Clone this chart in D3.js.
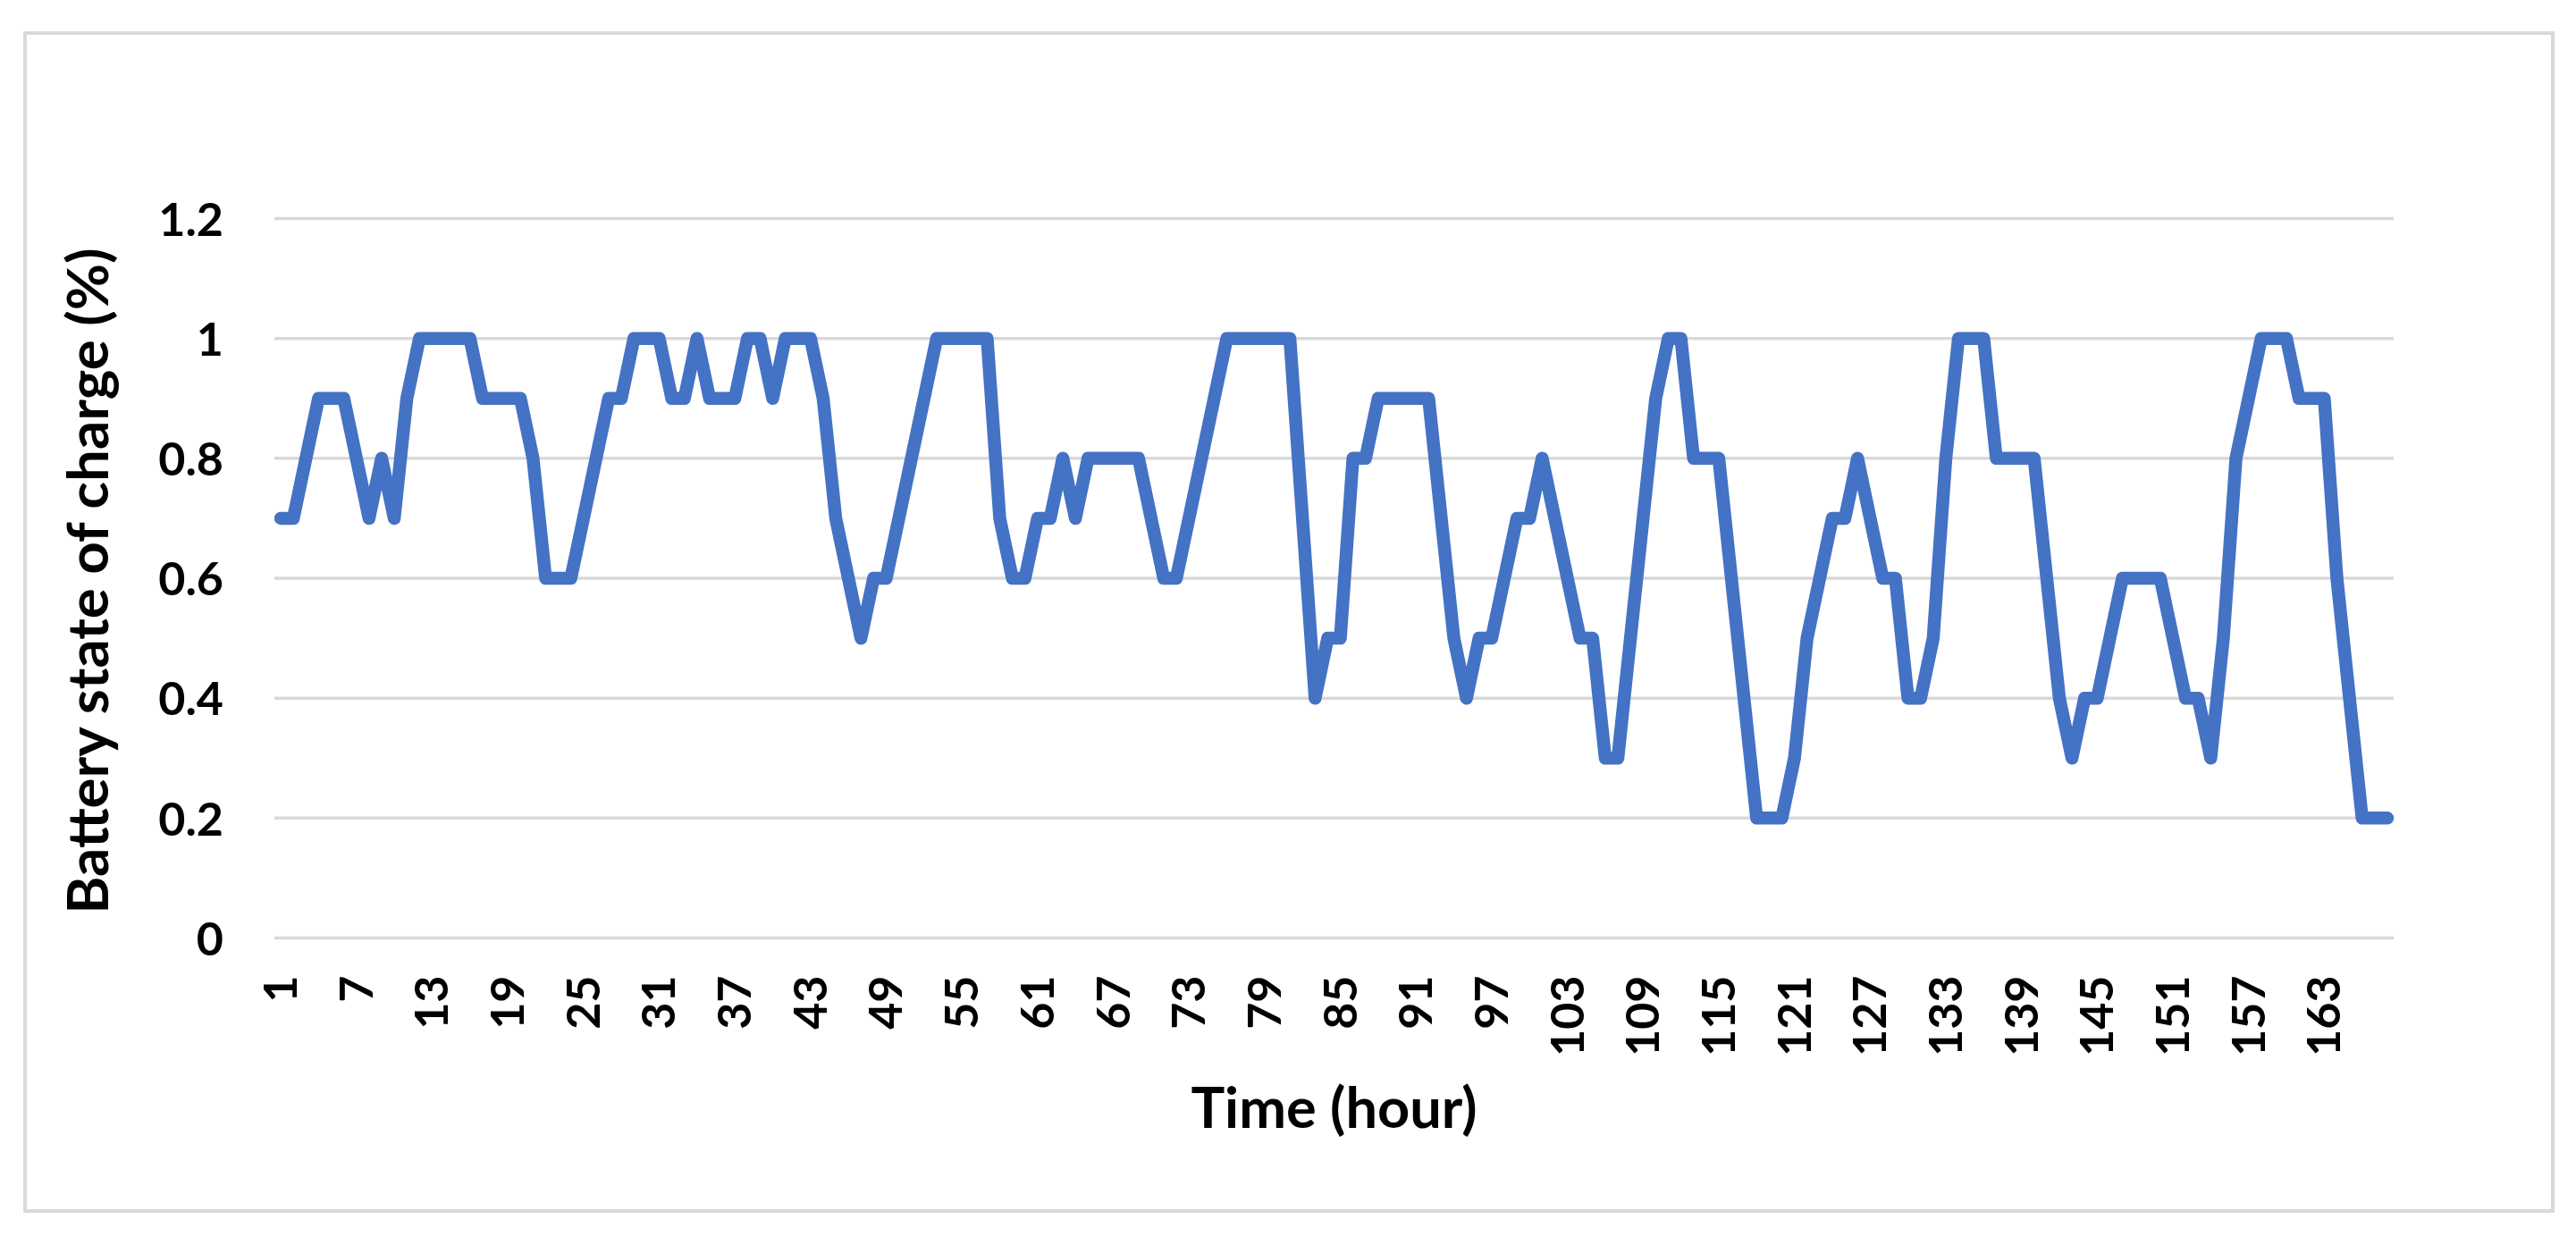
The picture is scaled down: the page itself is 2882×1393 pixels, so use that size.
<!DOCTYPE html>
<html>
<head>
<meta charset="utf-8">
<script src="https://cdn.jsdelivr.net/npm/d3@7"></script>
<style>
  html, body { margin: 0; padding: 0; background: #ffffff; }
  svg { display: block; }
</style>
</head>
<body>
<svg id="chart" width="2882" height="1393"></svg>
<script>
// ---- data ----
const hours = d3.range(1, 169);
const soc = [
  0.7,0.7,0.8,0.9,0.9,0.9,0.8,0.7,0.8,0.7,
  0.9,1.0,1.0,1.0,1.0,1.0,0.9,0.9,0.9,0.9,
  0.8,0.6,0.6,0.6,0.7,0.8,0.9,0.9,1.0,1.0,
  1.0,0.9,0.9,1.0,0.9,0.9,0.9,1.0,1.0,0.9,
  1.0,1.0,1.0,0.9,0.7,0.6,0.5,0.6,0.6,0.7,
  0.8,0.9,1.0,1.0,1.0,1.0,1.0,0.7,0.6,0.6,
  0.7,0.7,0.8,0.7,0.8,0.8,0.8,0.8,0.8,0.7,
  0.6,0.6,0.7,0.8,0.9,1.0,1.0,1.0,1.0,1.0,
  1.0,0.7,0.4,0.5,0.5,0.8,0.8,0.9,0.9,0.9,
  0.9,0.9,0.7,0.5,0.4,0.5,0.5,0.6,0.7,0.7,
  0.8,0.7,0.6,0.5,0.5,0.3,0.3,0.5,0.7,0.9,
  1.0,1.0,0.8,0.8,0.8,0.6,0.4,0.2,0.2,0.2,
  0.3,0.5,0.6,0.7,0.7,0.8,0.7,0.6,0.6,0.4,
  0.4,0.5,0.8,1.0,1.0,1.0,0.8,0.8,0.8,0.8,
  0.6,0.4,0.3,0.4,0.4,0.5,0.6,0.6,0.6,0.6,
  0.5,0.4,0.4,0.3,0.5,0.8,0.9,1.0,1.0,1.0,
  0.9,0.9,0.9,0.6,0.4,0.2,0.2,0.2
];
const xTickLabels = ["1","7","13","19","25","31","37","43","49","55","61","67","73","79","85","91","97","103","109","115","121","127","133","139","145","151","157","163"];
const yTickValues = [0, 0.2, 0.4, 0.6, 0.8, 1.0, 1.2];
const yTickLabels = ["0","0.2","0.4","0.6","0.8","1","1.2"];
const xTitle = "Time (hour)";
const yTitle = "Battery state of charge (%)";

// ---- layout ----
const W = 2882, H = 1393;
const plot = { left: 307, right: 2678, top: 244.5, bottom: 1049.5 };
const FONT = "Lato, 'Liberation Sans', Arial, sans-serif";

const svg = d3.select("#chart");
svg.append("rect").attr("width", W).attr("height", H).attr("fill", "#ffffff");

// outer frame
svg.append("rect")
  .attr("x", 28).attr("y", 37)
  .attr("width", 2856 - 28).attr("height", 1355 - 37)
  .attr("fill", "none").attr("stroke", "#d9d9d9").attr("stroke-width", 4);

const x = d3.scaleBand().domain(hours).range([plot.left, plot.right]).padding(0);
const y = d3.scaleLinear().domain([0, 1.2]).range([plot.bottom, plot.top]);
const bw = x.bandwidth();

// gridlines
svg.append("g").selectAll("line")
  .data(yTickValues)
  .join("line")
  .attr("x1", plot.left).attr("x2", plot.right)
  .attr("y1", d => y(d)).attr("y2", d => y(d))
  .attr("stroke", "#d9d9d9").attr("stroke-width", 3.5);

// y axis labels
const yAxis = d3.axisLeft(y)
  .tickValues(yTickValues)
  .tickSize(0)
  .tickPadding(57)
  .tickFormat((d, i) => yTickLabels[i]);
const gy = svg.append("g").attr("transform", `translate(${plot.left},0)`).call(yAxis);
gy.select(".domain").remove();
gy.selectAll("text")
  .attr("font-family", FONT).attr("font-weight", 700)
  .attr("font-size", 52).attr("fill", "#000000")
  .attr("dy", "0.36em");

// x axis labels
const xTickHours = xTickLabels.map(Number);
const xAxis = d3.axisBottom(x)
  .tickValues(xTickHours)
  .tickSize(0)
  .tickFormat((d, i) => xTickLabels[i]);
const gx = svg.append("g").attr("transform", `translate(0,${plot.bottom})`).call(xAxis);
gx.select(".domain").remove();
gx.selectAll("text")
  .attr("font-family", FONT).attr("font-weight", 700)
  .attr("font-size", 52).attr("fill", "#000000")
  .attr("x", 0).attr("y", 0).attr("dy", 0)
  .attr("text-anchor", "end")
  .attr("transform", "translate(18,42) rotate(-90)");

// line
const line = d3.line()
  .x((d, i) => x(hours[i]) + bw / 2)
  .y(d => y(d));
svg.append("path")
  .datum(soc)
  .attr("d", line)
  .attr("fill", "none")
  .attr("stroke", "#4472C4")
  .attr("stroke-width", 14.5)
  .attr("stroke-linejoin", "round")
  .attr("stroke-linecap", "round");

// titles
function fitText(sel, target, baseSize) {
  sel.attr("font-size", baseSize);
  const len = sel.node().getComputedTextLength();
  if (len > 0) sel.attr("font-size", baseSize * target / len);
}
const xt = svg.append("text")
  .attr("x", (plot.left + plot.right) / 2).attr("y", 1262)
  .attr("text-anchor", "middle")
  .attr("font-family", FONT).attr("font-weight", 700).attr("fill", "#000000")
  .text(xTitle);
fitText(xt, 320, 58);

const yt = svg.append("text")
  .attr("transform", `translate(121,${(plot.top + plot.bottom) / 2 + 3}) rotate(-90)`)
  .attr("text-anchor", "middle")
  .attr("font-family", FONT).attr("font-weight", 700).attr("fill", "#000000")
  .text(yTitle);
fitText(yt, 745, 58);
</script>
</body>
</html>
